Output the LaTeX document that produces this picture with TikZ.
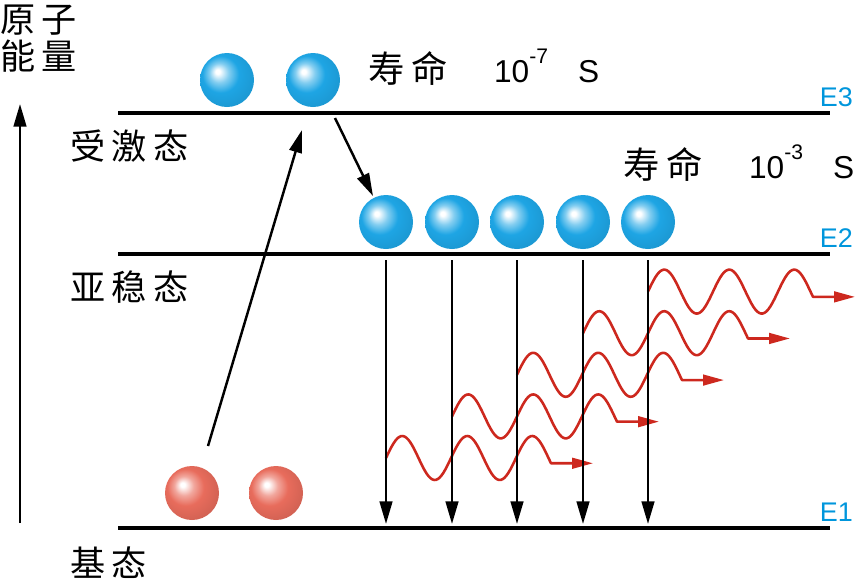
\documentclass[tikz,border=0pt]{standalone}
\usepackage{fontspec}
\setmainfont{Liberation Sans}
\newfontfamily\cjk[LetterSpace=18]{Noto Sans CJK SC}
\usetikzlibrary{arrows.meta}

\definecolor{ballblue}{RGB}{30,165,228}
\definecolor{ballred}{RGB}{232,108,92}
\definecolor{wavered}{RGB}{205,40,30}
\definecolor{tagblue}{RGB}{0,150,220}

\pgfdeclareradialshading{blueshade}{\pgfpoint{-9bp}{8bp}}{color(0bp)=(white); color(2bp)=(white); color(9bp)=(ballblue!55!white); color(17bp)=(ballblue); color(30bp)=(ballblue!92!black); color(50bp)=(ballblue!85!black)}
\pgfdeclareradialshading{redshade}{\pgfpoint{-9bp}{8bp}}{color(0bp)=(white); color(2bp)=(white); color(9bp)=(ballred!60!white); color(17bp)=(ballred); color(30bp)=(ballred!90!black); color(50bp)=(ballred!82!black)}

\tikzset{
  level/.style={line width=2.6pt},
  blackarrow/.style={line width=2.1pt, -{Triangle[length=0.68cm, width=0.38cm]}},
  wave/.style={line width=2.2pt, draw=wavered, line join=round, -{Triangle[length=0.63cm, width=0.32cm, fill=wavered]}},
  blueball/.style={circle, minimum size=1.62cm, inner sep=0pt, shading=blueshade},
  redball/.style={circle, minimum size=1.62cm, inner sep=0pt, shading=redshade},
  state/.style={inner sep=0pt, anchor=west, font=\cjk\fontsize{30}{32}\selectfont},
  tag/.style={inner sep=0pt, anchor=south east, text=tagblue, font=\fontsize{23}{23}\selectfont},
  life/.style={inner sep=0pt, anchor=west, font=\fontsize{27}{27}\selectfont}
}

\begin{document}
\begin{tikzpicture}[x=0.03cm, y=-0.03cm]
  \useasboundingbox (0,0) rectangle (857,580);
  % Energy axis
  \coordinate (axis-a) at (20,523);
  \coordinate (axis-b) at (20,104);
  \draw [blackarrow] (axis-a) -- (axis-b);
  \node [state] (axis-1) at (0,20) {原子};
  \node [state] (axis-2) at (0,56) {能量};
  % Levels
  \foreach \y/\name [count=\i] in {528/E1, 254/E2, 113/E3} {
    \coordinate (level-\i-a) at (118,\y);
    \coordinate (level-\i-b) at (830,\y);
    \draw [level] (level-\i-a) -- (level-\i-b);
    \node [tag] (tag-\i) at (853,\y-6) {\name};
  }
  \node [state] (state-3) at (70,146) {受激态};
  \node [state] (state-2) at (70,287) {亚稳态};
  \node [state] (state-1) at (70,563) {基态};
  % Atoms
  \foreach \x [count=\i] in {192, 276}
    \node [redball] (ball-1-\i) at (\x,493) {};
  \foreach \x [count=\i] in {386, 452, 517, 583, 648}
    \node [blueball] (ball-2-\i) at (\x,222) {};
  \foreach \x [count=\i] in {227, 313}
    \node [blueball] (ball-3-\i) at (\x,80) {};
  % Lifetimes
  \node [life] (life-3) at (368,67) {{\cjk\fontsize{31}{31}\selectfont 寿命}\hspace{1.4cm}10\raisebox{0.56cm}{\fontsize{18}{18}\selectfont -7}\hspace{0.9cm}S};
  \node [life] (life-2) at (623,163) {{\cjk\fontsize{31}{31}\selectfont 寿命}\hspace{1.4cm}10\raisebox{0.56cm}{\fontsize{18}{18}\selectfont -3}\hspace{0.9cm}S};
  % Pumping and relaxation
  \coordinate (pump-a) at (208,446);
  \coordinate (pump-b) at (302,130);
  \draw [blackarrow] (pump-a) -- (pump-b);
  \coordinate (relax-a) at (335,118);
  \coordinate (relax-b) at (373,196);
  \draw [blackarrow] (relax-a) -- (relax-b);
  % Emitted photons
  \foreach \x [count=\i] in {386, 452, 517, 583, 648} {
    \pgfmathsetmacro\yc{458-41.6*(\i-1)}
    \draw [wave] plot [variable=\t, domain=0:165, samples=90, smooth] ({\x+\t},{\yc-22*sin(\t/65*360)}) -- ++(42,0);
  }
  % Transitions E2 -> E1
  \foreach \x [count=\i] in {386, 452, 517, 583, 648} {
    \coordinate (drop-\i-a) at (\x,260);
    \coordinate (drop-\i-b) at (\x,524);
    \draw [blackarrow] (drop-\i-a) -- (drop-\i-b);
  }
\end{tikzpicture}
\end{document}
